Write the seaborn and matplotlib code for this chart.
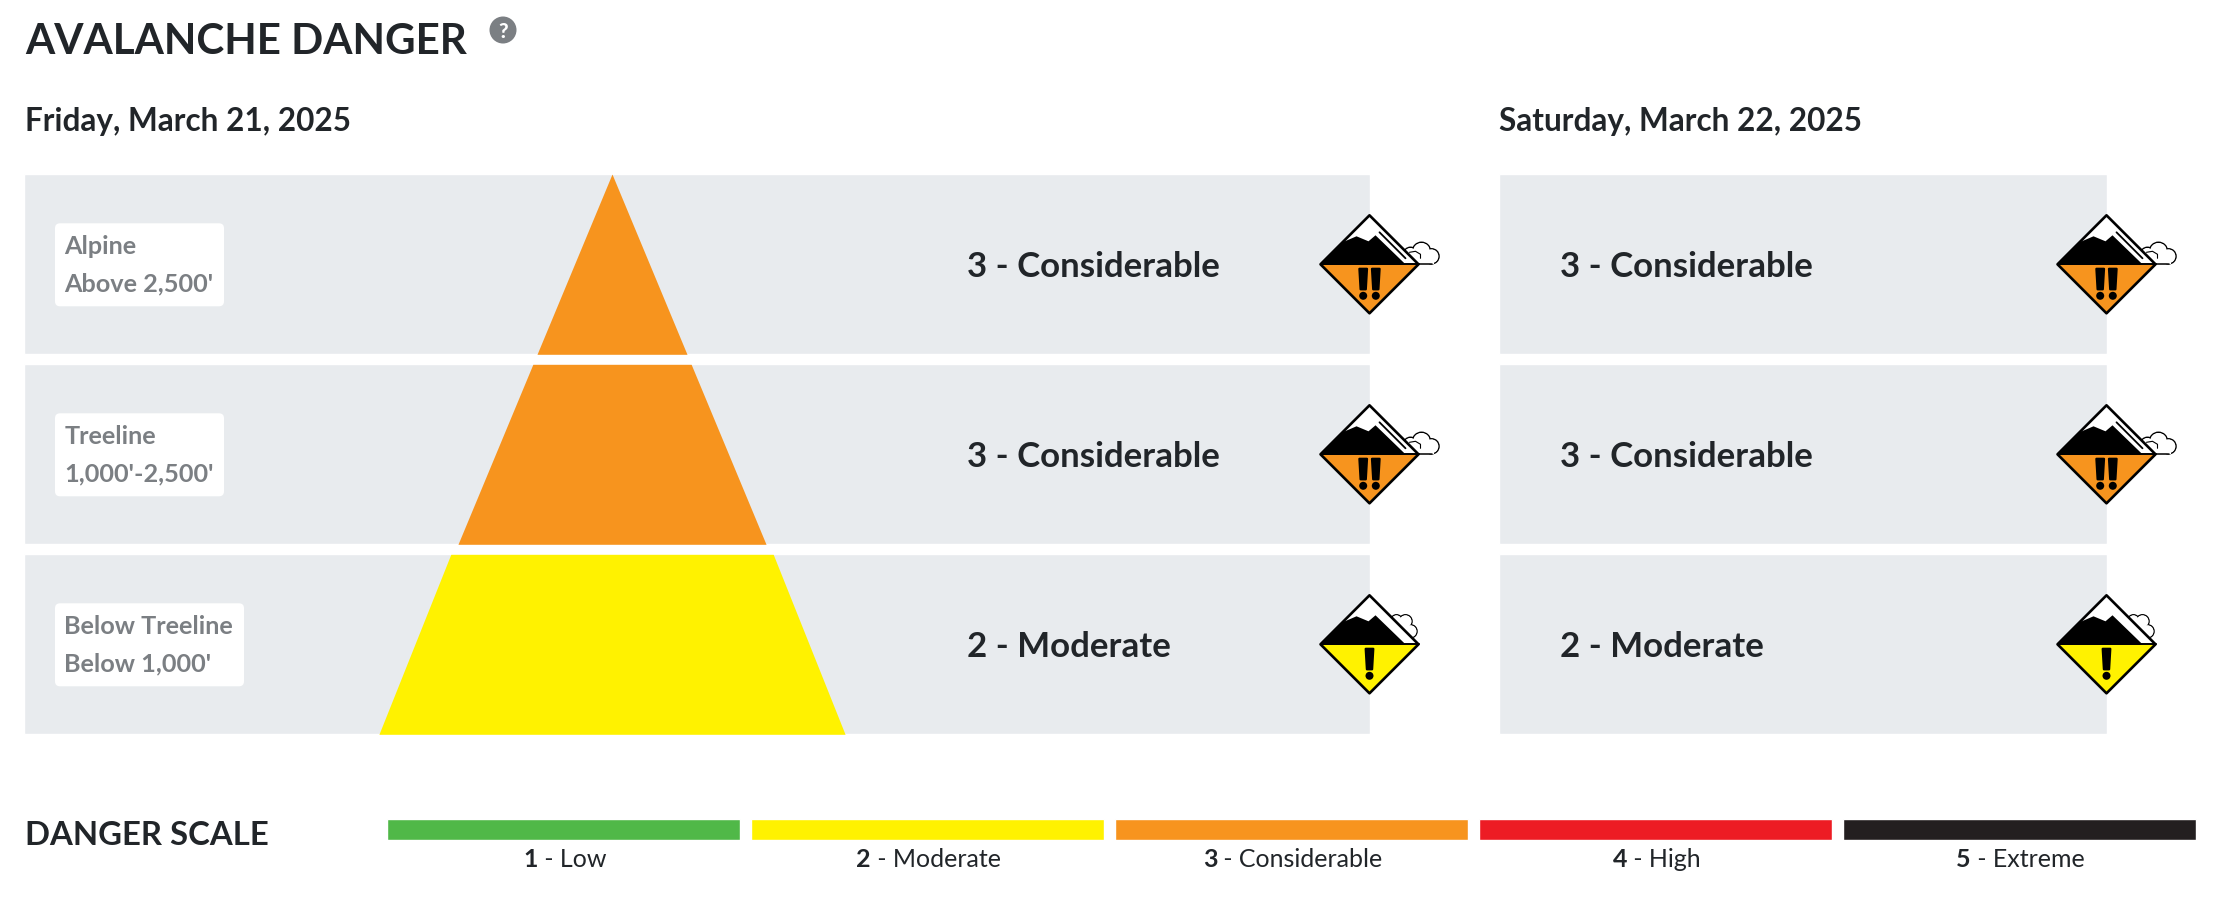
import matplotlib
matplotlib.use("Agg")
import matplotlib.pyplot as plt
from matplotlib.patches import Polygon, Circle, FancyBboxPatch, Rectangle
import seaborn as sns

# ---------- data ----------
bands = ["Alpine", "Treeline", "Below Treeline"]
elevations = ["Above 2,500'", "1,000'-2,500'", "Below 1,000'"]
day_titles = ["Friday, March 21, 2025", "Saturday, March 22, 2025"]
friday_levels = [3, 3, 2]
saturday_levels = [3, 3, 2]
scale_levels = [1, 2, 3, 4, 5]
scale_names = ["Low", "Moderate", "Considerable", "High", "Extreme"]
scale_colors = ["#50B848", "#FFF200", "#F7941E", "#ED1C24", "#231F20"]
title = "AVALANCHE DANGER"
scale_title = "DANGER SCALE"

# ---------- style ----------
W, H = 2224, 904
PANEL = "#E8EBEE"
INK = "#212529"
GREY = "#7B7F83"
BOLD = 700
sns.set_theme(style="white")
plt.rcParams["font.family"] = ["Lato", "DejaVu Sans"]
fig = plt.figure(figsize=(W / 100, H / 100), dpi=100, facecolor="white")


def px_axes(x0, y0, x1, y1):
    return fig.add_axes([x0 / W, 1 - y1 / H, (x1 - x0) / W, (y1 - y0) / H])


def panel(x0, x1):
    ax = px_axes(x0, 170.3, x1, 740.3)
    sns.barplot(x=[1, 1, 1], y=bands, color=PANEL, width=180 / 190, saturation=1, ax=ax)
    ax.set_xlim(0, 1)
    ax.axis("off")


panel(24.5, 1370)
panel(1499, 2107)

ax_scale = px_axes(381.5, 820, 2201.5, 841)
sns.barplot(x=scale_levels, y=[1] * 5, hue=scale_levels, palette=scale_colors,
            width=352.5 / 364, saturation=1, legend=False, ax=ax_scale)
ax_scale.set_ylim(0, 1)
ax_scale.axis("off")

# pixel overlay for pyramid, icons and text
ov = fig.add_axes([0, 0, 1, 1], zorder=5)
ov.set_xlim(0, W)
ov.set_ylim(H, 0)
ov.axis("off")
ov.patch.set_alpha(0)

color_of = dict(zip(scale_levels, scale_colors))
name_of = dict(zip(scale_levels, scale_names))
ROW_TOP = [175.3, 365.3, 555.3]
ROW_H = 180

# pyramid
cx, apex = 612, 175
slope = 0.416
widen = [0, 0, 3]
for i, lvl in enumerate(friday_levels):
    y0, y1 = ROW_TOP[i], ROW_TOP[i] + ROW_H
    a, b = (y0 - apex) * slope + widen[i], (y1 - apex) * slope
    ov.fill_betweenx([y0, y1], [cx - a, cx - b], [cx + a, cx + b], color=color_of[lvl], lw=0, zorder=2)


def icon(cx, cy, lvl):
    R = 49
    col = color_of[lvl]
    z = 6
    # cloud
    if lvl == 3:
        lobes = [(41, -10, 6.5), (52, -13, 8.5), (62, -8, 7)]
        for x, y, r in lobes:
            ov.add_patch(Circle((cx + x, cy + y), r + .5, fc="white", ec="black", lw=1.1, zorder=z))
        ov.add_patch(Rectangle((cx + 34, cy - 10), 30, 9.5, fc="white", ec="none", zorder=z))
        ov.plot([cx + 36, cx + 62], [cy - .5, cy - .5], color="black", lw=1.1, zorder=z)
        for x, y, r in lobes:
            ov.add_patch(Circle((cx + x, cy + y), r - .2, fc="white", ec="none", zorder=z))
        ov.plot([cx + 40, cx + 46, cx + 51, cx + 51], [cy - 12, cy - 13, cy - 10, cy - 6],
                color="black", lw=.8, zorder=z)
    else:
        lobes = [(27, -24, 5.5), (36, -23, 6.5), (41, -13, 6.5)]
        for x, y, r in lobes:
            ov.add_patch(Circle((cx + x, cy + y), r, fc="white", ec="black", lw=1.1, zorder=z))
        for x, y, r in lobes:
            ov.add_patch(Circle((cx + x, cy + y), r - .5, fc="white", ec="none", zorder=z))
        ov.add_patch(Polygon([(cx + 20, cy - 24), (cx + 38, cy - 20), (cx + 40, cy - 8), (cx + 30, cy - 10)],
                             fc="white", ec="none", zorder=z))
    z = 7
    ov.add_patch(Polygon([(cx, cy - R), (cx + R, cy), (cx - R, cy)], fc="white", ec="none", zorder=z))
    ov.add_patch(Polygon([(cx - R, cy), (cx + R, cy), (cx, cy + R)], fc=col, ec="none", zorder=z))
    ov.add_patch(Polygon([(cx - R, cy), (cx - 27, cy - 22), (cx - 13, cy - 28), (cx - 1, cy - 23),
                          (cx + 6, cy - 29), (cx + 36, cy), (cx + 36, cy + .5), (cx - R, cy + .5)],
                         fc="black", ec="none", zorder=z))
    if lvl == 3:
        ov.plot([cx + 10, cx + 36], [cy - 32, cy - 6], color="black", lw=1.3, zorder=z)
    ov.add_patch(Polygon([(cx, cy - R), (cx + R, cy), (cx, cy + R), (cx - R, cy)],
                         fc="none", ec="black", lw=1.9, joinstyle="round", zorder=z + 1))
    ov.plot([cx - R, cx + R], [cy, cy], color="black", lw=1.4, zorder=z + 1)
    # exclamation marks
    offs = [-6.3, 6.3] if lvl == 3 else [0]
    for o in offs:
        ov.add_patch(Polygon([(cx + o - 3.8, cy + 4.5), (cx + o + 3.8, cy + 4.5), (cx + o + 2.6, cy + 25),
                              (cx + o - 2.6, cy + 25)], fc="black", ec="black", lw=1.6, joinstyle="round", zorder=z + 1))
        ov.add_patch(Circle((cx + o, cy + 31.5), 4.0, fc="black", ec="none", zorder=z + 1))


for i in range(3):
    cy = ROW_TOP[i] + 90
    # elevation label box
    right = [224, 224, 244][i]
    ov.add_patch(FancyBboxPatch((59, ROW_TOP[i] + 53), right - 63, 75,
                                boxstyle="round,pad=4,rounding_size=5", fc="white", ec="none", zorder=3))
    ov.text(64.5, ROW_TOP[i] + 71.5, bands[i], fontsize=18.2, color=GREY, fontweight=BOLD,
            va="center", ha="left", zorder=4)
    ov.text(64.5, ROW_TOP[i] + 109, elevations[i], fontsize=18.2, color=GREY, fontweight=BOLD,
            va="center", ha="left", zorder=4)
    # ratings
    for lv, tx, ic in ((friday_levels[i], 967, 1369.5), (saturday_levels[i], 1560, 2106.5)):
        ov.text(tx, cy + 1.5, f"{lv} - {name_of[lv]}", fontsize=25.1, color=INK, fontweight=BOLD,
                va="center", ha="left", zorder=4)
        icon(ic, cy, lv)

ov.text(25, 42, title, fontsize=30.3, color=INK, fontweight=BOLD, va="center", ha="left")
ov.add_patch(Circle((503, 31), 13.5, fc=GREY, ec="none"))
ov.text(503, 31, "?", fontsize=15, color="white", fontweight="black", va="center", ha="center")
ov.text(25, 121, day_titles[0], fontsize=22.7, color=INK, fontweight=BOLD, va="center", ha="left")
ov.text(1499, 121, day_titles[1], fontsize=22.7, color=INK, fontweight=BOLD, va="center", ha="left")
ov.text(25, 836, scale_title, fontsize=23.7, color=INK, fontweight=BOLD, va="center", ha="left")

# scale labels: bold number + regular name, centred together below each bar
fig.canvas.draw()
rend = fig.canvas.get_renderer()
for i, (lv, nm) in enumerate(zip(scale_levels, scale_names)):
    xc = 564.5 + 364 * i
    t1 = ov.text(0, 860, f"{lv}", fontsize=18, color=INK, fontweight="bold", va="center", ha="left")
    t2 = ov.text(0, 860, f"\u00a0-\u00a0{nm}", fontsize=18, color=INK, va="center", ha="left")
    w1 = t1.get_window_extent(rend).width
    w2 = t2.get_window_extent(rend).width
    x0 = xc - (w1 + w2) / 2
    t1.set_x(x0)
    t2.set_x(x0 + w1)

fig.savefig("out.png", dpi=100, facecolor="white")
